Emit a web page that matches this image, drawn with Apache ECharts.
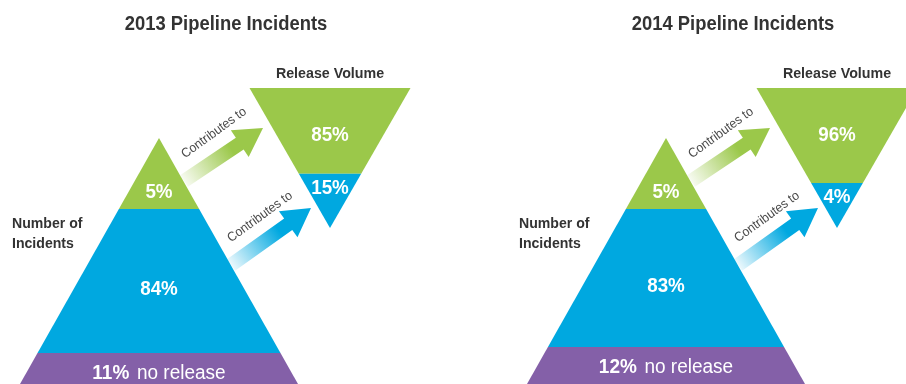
<!DOCTYPE html>
<html>
<head>
<meta charset="utf-8">
<script src="https://cdn.jsdelivr.net/npm/echarts@6/dist/echarts.min.js"></script>
<style>
  html, body { margin: 0; padding: 0; background: #ffffff; }
  #chart { width: 906px; height: 384px; }
</style>
</head>
<body>
<div id="chart"></div>
<script>
// Pipeline incidents by year: share of incident count and share of release volume
const years = ['2013', '2014'];
const incidentsLarge = [5, 5];     // % of incidents in the top tier
const incidentsSmall = [84, 83];   // % of incidents in the middle tier
const incidentsNone = [11, 12];    // % of incidents with no release
const volumeLarge = [85, 96];      // % of release volume from the top tier
const volumeSmall = [15, 4];       // % of release volume from the middle tier

const GREEN = '#9bc84a';
const BLUE = '#00a8e0';
const PURPLE = '#8460a8';
const INK = '#333333';
const FONT = '"Liberation Sans", Arial, sans-serif';

function rgba(hex, a) {
  const n = parseInt(hex.slice(1), 16);
  return 'rgba(' + (n >> 16 & 255) + ',' + (n >> 8 & 255) + ',' + (n & 255) + ',' + a + ')';
}

// Arrow with a fading shaft, pointing from (x0,y0) to (x1,y1)
function arrow(x0, y0, x1, y1, color) {
  const dx = x1 - x0, dy = y1 - y0, len = Math.hypot(dx, dy);
  const ux = dx / len, uy = dy / len, nx = -uy, ny = ux;
  const shaft = 7, head = 16, headLen = 28;
  const bx = x1 - ux * headLen, by = y1 - uy * headLen;
  return {
    type: 'polygon',
    shape: { points: [
      [x0 + nx * shaft, y0 + ny * shaft],
      [bx + nx * shaft, by + ny * shaft],
      [bx + nx * head, by + ny * head],
      [x1, y1],
      [bx - nx * head, by - ny * head],
      [bx - nx * shaft, by - ny * shaft],
      [x0 - nx * shaft, y0 - ny * shaft]
    ] },
    style: {
      fill: new echarts.graphic.LinearGradient(x0, y0, x1, y1, [
        { offset: 0, color: rgba(color, 0.08) },
        { offset: 0.6, color: rgba(color, 1) },
        { offset: 1, color: rgba(color, 1) }
      ], true)
    }
  };
}

// Centered text, narrowed horizontally for a condensed look
function label(x, y, text, size, weight, color, sx, rotation) {
  return {
    type: 'text', x: x, y: y, scaleX: sx, rotation: rotation || 0,
    style: {
      text: text, fill: color, align: 'center', verticalAlign: 'middle',
      font: weight + ' ' + size + 'px ' + FONT
    }
  };
}

function renderPanel(params, api) {
  const i = api.value(0);
  const ax = api.coord([i, 0])[0];   // pyramid apex x for this year

  // Incident pyramid
  const apexY = 138, slope = 0.565;
  const half = y => slope * (y - apexY);
  const band = (y0, y1, fill) => ({
    type: 'polygon',
    shape: { points: [[ax - half(y0), y0], [ax + half(y0), y0], [ax + half(y1), y1], [ax - half(y1), y1]] },
    style: { fill: fill }
  });
  const tipY = 209;
  const noneTop = 419 - 6 * incidentsNone[i];
  const baseY = 430;

  // Release volume triangle (pointing down); blue wedge sized by area, with room for its label
  const cx = ax + 171, topY = 88, botY = 228, topHalf = 80.5;
  const rhalf = y => topHalf * (botY - y) / (botY - topY);
  const wedge = Math.max((botY - topY) * Math.sqrt(volumeSmall[i] / 100), 45);
  const splitY = botY - wedge;

  const deg = 36 * Math.PI / 180;

  return {
    type: 'group',
    children: [
      band(apexY, tipY, GREEN),
      band(tipY, noneTop, BLUE),
      band(noneTop, baseY, PURPLE),
      {
        type: 'polygon',
        shape: { points: [[cx - topHalf, topY], [cx + topHalf, topY], [cx + rhalf(splitY), splitY], [cx - rhalf(splitY), splitY]] },
        style: { fill: GREEN }
      },
      {
        type: 'polygon',
        shape: { points: [[cx - rhalf(splitY), splitY], [cx + rhalf(splitY), splitY], [cx, botY]] },
        style: { fill: BLUE }
      },
      arrow(ax + 25, 181, ax + 104, 128, GREEN),
      arrow(ax + 72, 265, ax + 152, 208, BLUE),

      label(ax + 67, 24, years[i] + ' Pipeline Incidents', 20, 'bold', INK, 0.92),
      label(cx, 74, 'Release Volume', 15, 'bold', INK, 0.95),
      label(cx, 135, volumeLarge[i] + '%', 20, 'bold', '#ffffff', 0.94),
      label(cx, splitY + 14.5, volumeSmall[i] + '%', 20, 'bold', '#ffffff', 0.94),
      label(ax, 192, incidentsLarge[i] + '%', 20, 'bold', '#ffffff', 0.94),
      label(ax, (tipY + noneTop) / 2 + 8, incidentsSmall[i] + '%', 20, 'bold', '#ffffff', 0.94),
      {
        type: 'text', x: ax, y: noneTop + 20, scaleX: 0.95,
        style: {
          text: '{b|' + incidentsNone[i] + '%}{r|no release}',
          align: 'center', verticalAlign: 'middle',
          rich: {
            b: { fill: '#ffffff', fontSize: 20, fontWeight: 'bold', fontFamily: FONT, padding: [0, 8, 0, 0] },
            r: { fill: '#ffffff', fontSize: 20, fontWeight: 'normal', fontFamily: FONT }
          }
        }
      },
      {
        type: 'text', x: ax - 147, y: 233.5, scaleX: 0.94,
        style: {
          text: 'Number of\nIncidents', fill: INK, align: 'left', verticalAlign: 'middle',
          font: 'bold 15px ' + FONT, lineHeight: 20
        }
      },
      label(ax + 55, 133, 'Contributes to', 13, 'normal', '#4a4a4a', 0.95, deg),
      label(ax + 101, 217, 'Contributes to', 13, 'normal', '#4a4a4a', 0.95, deg)
    ]
  };
}

const chart = echarts.init(document.getElementById('chart'), null, { renderer: 'canvas' });
chart.setOption({
  animation: false,
  backgroundColor: '#ffffff',
  grid: { left: 159, right: 240, top: 0, bottom: 0 },
  xAxis: { type: 'category', data: years, boundaryGap: false, show: false },
  yAxis: { type: 'value', min: 0, max: 1, show: false },
  series: [{
    type: 'custom',
    coordinateSystem: 'cartesian2d',
    clip: false,
    silent: true,
    data: years.map((y, idx) => [idx, 0]),
    renderItem: renderPanel
  }]
});
</script>
</body>
</html>
